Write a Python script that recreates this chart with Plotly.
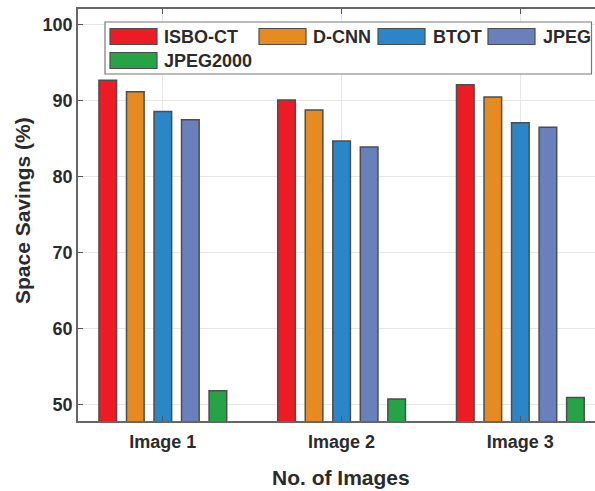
import plotly.graph_objects as go

categories = ["Image 1", "Image 2", "Image 3"]
cat_pos = [1, 2, 3]
series_names = ["ISBO-CT", "D-CNN", "BTOT", "JPEG", "JPEG2000"]
isbo_ct = [92.7, 90.1, 92.1]
d_cnn = [91.2, 88.8, 90.5]
btot = [88.6, 84.7, 87.1]
jpeg = [87.5, 83.9, 86.5]
jpeg2000 = [51.8, 50.7, 50.9]
y_ticks = [50, 60, 70, 80, 90, 100]

series_values = [isbo_ct, d_cnn, btot, jpeg, jpeg2000]
colors = ["#ED1C24", "#E68A22", "#2A86C6", "#6A80BC", "#27A347"]

W, H = 595, 491
L, R, T, B = 78, 0, 9, 70
pw, ph = W - L - R, H - T - B

def px(x):
    return (x - L) / pw

def py(y):
    return (H - B - y) / ph

font = "Liberation Sans, Arial, sans-serif"
txt = "#2b2b2b"

fig = go.Figure()
for name, vals, c in zip(series_names, series_values, colors):
    fig.add_trace(go.Bar(
        x=cat_pos, y=vals, name=name, marker_color=c,
        marker_line_color="#4d4d4d", marker_line_width=1.5,
        showlegend=False,
    ))

# custom legend (MATLAB style wide swatches)
shapes = [dict(type="rect", xref="paper", yref="paper",
               x0=px(105), x1=px(591.5), y0=py(74), y1=py(22),
               fillcolor="white", line=dict(color="#777777", width=1.2), layer="above")]
annotations = []
legend_items = [(110, 28.5, 162), (259, 28.5, 311), (378, 28.5, 431), (488, 28.5, 541), (110, 52.5, 162)]
for (sx, sy, tx), name, c in zip(legend_items, series_names, colors):
    shapes.append(dict(type="rect", xref="paper", yref="paper",
                       x0=px(sx), x1=px(sx + 47), y0=py(sy + 16), y1=py(sy),
                       fillcolor=c, line=dict(color="#4d4d4d", width=1.2), layer="above"))
    annotations.append(dict(xref="paper", yref="paper", x=px(tx), y=py(sy + 8),
                            text="<b>%s</b>" % name, showarrow=False, xanchor="left",
                            yanchor="middle", font=dict(family=font, size=18, color=txt)))

# axis titles
annotations.append(dict(xref="paper", yref="paper", x=px(341), y=py(477),
                        text="<b>No. of Images</b>", showarrow=False, xanchor="center",
                        yanchor="middle", font=dict(family=font, size=21, color=txt)))
annotations.append(dict(xref="paper", yref="paper", x=px(22), y=py(211),
                        text="<b>Space Savings (%)</b>", showarrow=False, xanchor="center",
                        yanchor="middle", textangle=-90, font=dict(family=font, size=21, color=txt)))

fig.update_layout(
    width=W, height=H,
    margin=dict(l=L, r=R, t=T, b=B, autoexpand=False),
    paper_bgcolor="white", plot_bgcolor="white",
    barmode="group", bargap=0.23, bargroupgap=0.36,
    shapes=shapes, annotations=annotations,
    font=dict(family=font, size=18, color=txt),
    xaxis=dict(
        range=[0.5255, 3.4175], tickvals=cat_pos, ticktext=["<b>%s</b>" % c for c in categories],
        showgrid=True, gridcolor="#e6e6e6", gridwidth=1,
        showline=True, linecolor="#666666", linewidth=1.5, mirror="ticks",
        ticks="inside", ticklen=5, tickcolor="#555555", ticklabelstandoff=4,
        tickfont=dict(family=font, size=18, color=txt),
        automargin=False, zeroline=False,
    ),
    yaxis=dict(
        range=[47.8, 102.1], tickvals=y_ticks, ticktext=["<b>%d</b>" % v for v in y_ticks],
        showgrid=True, gridcolor="#e6e6e6", gridwidth=1,
        showline=True, linecolor="#666666", linewidth=1.5,
        ticks="inside", ticklen=5, tickcolor="#555555",
        tickfont=dict(family=font, size=18, color=txt),
        automargin=False, zeroline=False,
    ),
)

fig.write_html(
    "out.html",
    config={"displayModeBar": False},
    post_script="document.body.style.margin='0px';document.body.style.overflow='hidden';",
)
